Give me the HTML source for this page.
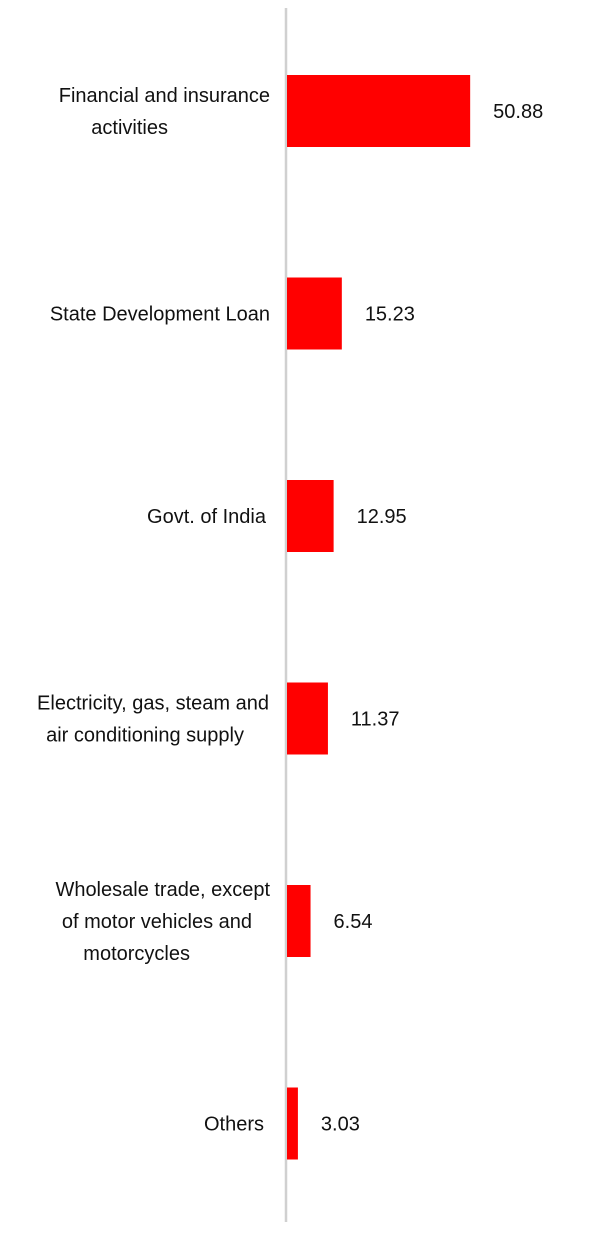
<!DOCTYPE html>
<html><head><meta charset="utf-8"><style>
html,body{margin:0;padding:0;background:#fff;}
svg text{font-family:"Liberation Sans",sans-serif;font-size:20px;fill:#111;}
</style></head><body>
<svg width="607" height="1241" viewBox="0 0 607 1241" id="chart">
<line x1="286" y1="8" x2="286" y2="1222" stroke="#d0d0d0" stroke-width="2.5"/>
</svg>
<script>
const categories=[["Financial and insurance","activities"],["State Development Loan"],["Govt. of India"],["Electricity, gas, steam and","air conditioning supply"],["Wholesale trade, except","of motor vehicles and","motorcycles"],["Others"]];
const values=[50.88,15.23,12.95,11.37,6.54,3.03];
const valueLabels=["50.88","15.23","12.95","11.37","6.54","3.03"];
const lineEnds=[[270,168],[270],[266],[269,244],[270,252,190],[264]];
const svg=document.getElementById('chart');
const NS='http://www.w3.org/2000/svg';
const x0=287, scale=3.6;
function xScale(v){return x0+v*scale;}
function yCenter(i){return 111+i*202.5;}
const barH=72;
values.forEach((v,i)=>{
  const yc=yCenter(i);
  const r=document.createElementNS(NS,'rect');
  r.setAttribute('x',x0);r.setAttribute('y',yc-barH/2);
  r.setAttribute('width',xScale(v)-x0);r.setAttribute('height',barH);
  r.setAttribute('fill','#ff0000');
  
  
  svg.appendChild(r);
  const t=document.createElementNS(NS,'text');
  t.setAttribute('x',xScale(v)+23);t.setAttribute('y',yc+7);
  t.textContent=valueLabels[i];
  
  
  svg.appendChild(t);
  const lines=categories[i];
  const n=lines.length;
  lines.forEach((ln,j)=>{
    const c=document.createElementNS(NS,'text');
    c.setAttribute('x',lineEnds[i][j]);
    c.setAttribute('y',yc+7+(j-(n-1)/2)*32);
    c.setAttribute('text-anchor','end');
    c.textContent=ln;
    
    
    svg.appendChild(c);
  });
});
</script>
</body></html>
